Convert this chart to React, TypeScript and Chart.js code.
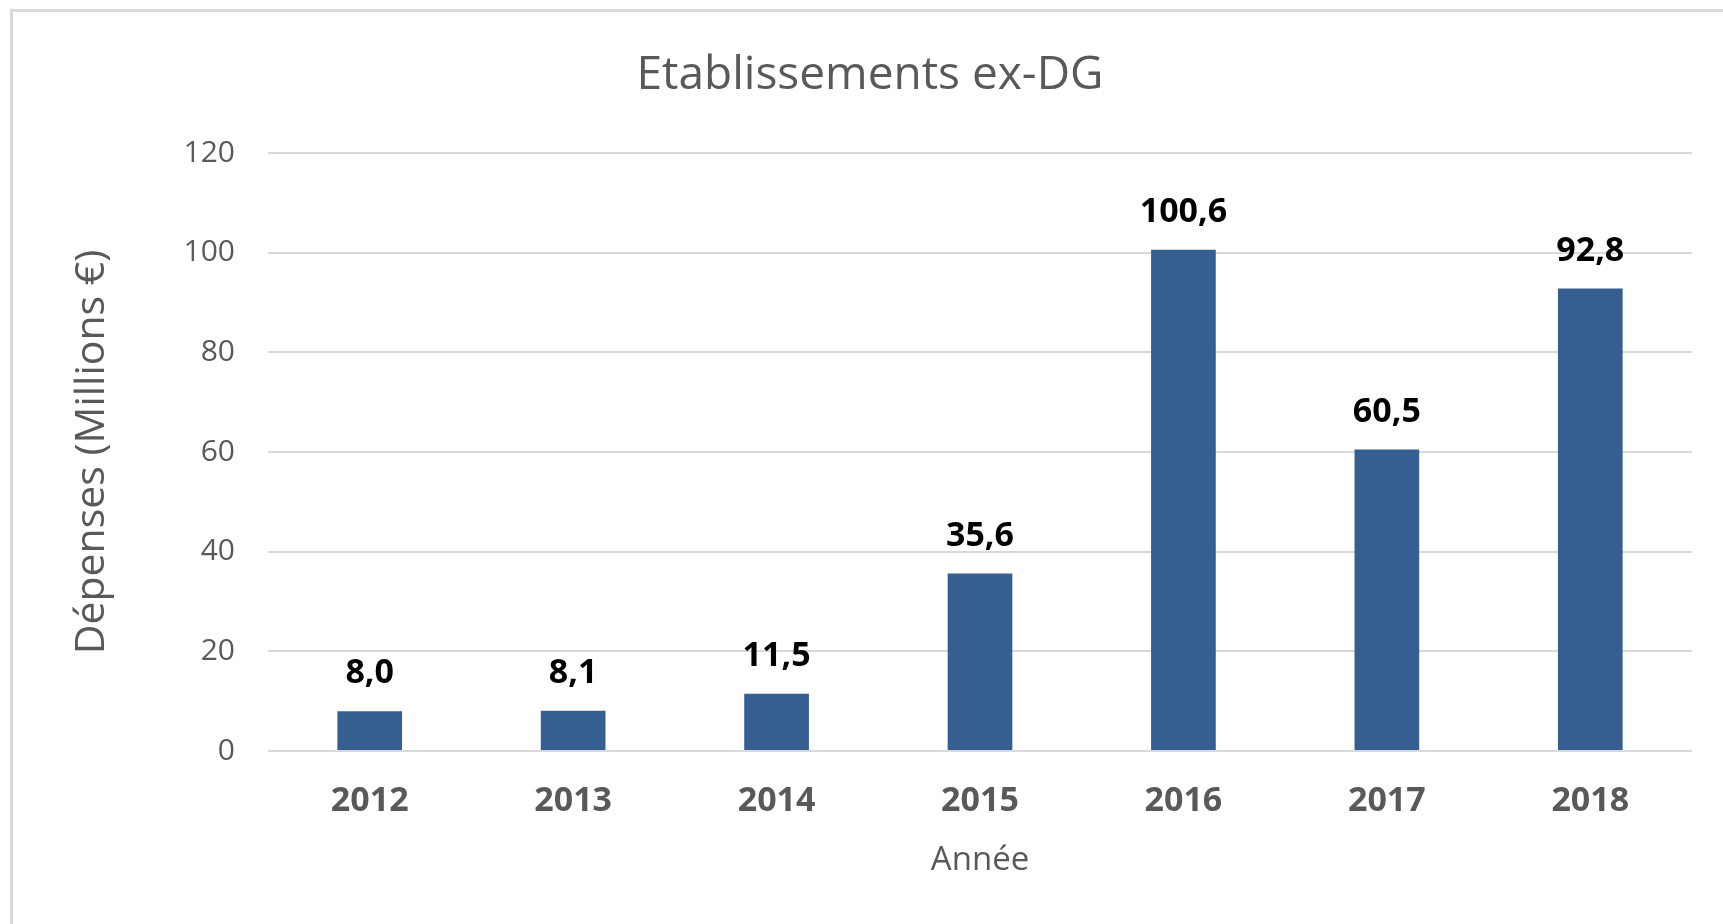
import React, { useEffect, useRef } from "react";
import { Chart, registerables } from "chart.js";

Chart.register(...registerables);

const titleText = "Etablissements ex-DG";
const yAxisTitle = "Dépenses (Millions €)";
const xAxisTitle = "Année";
const years = ["2012", "2013", "2014", "2015", "2016", "2017", "2018"];
const spending = [8.0, 8.1, 11.5, 35.6, 100.6, 60.5, 92.8];
const yTicks = [0, 20, 40, 60, 80, 100, 120];

const FONT = "'Open Sans', 'Noto Sans', sans-serif";
const W = 1723;
const H = 924;

const dataLabelPlugin = {
  id: "dataLabels",
  afterDatasetsDraw(chart: any) {
    const ctx = chart.ctx;
    const meta = chart.getDatasetMeta(0);
    const values = chart.data.datasets[0].data as number[];
    ctx.save();
    ctx.font = `bold 34px ${FONT}`;
    ctx.fillStyle = "#000000";
    ctx.textAlign = "center";
    ctx.textBaseline = "alphabetic";
    meta.data.forEach((bar: any, i: number) => {
      const label = values[i].toFixed(1).replace(".", ",");
      ctx.fillText(label, bar.x, bar.y - 28);
    });
    ctx.restore();
  },
};

export default function App() {
  const canvasRef = useRef<HTMLCanvasElement | null>(null);

  useEffect(() => {
    if (!canvasRef.current) return;
    const chart = new Chart(canvasRef.current, {
      type: "bar",
      data: {
        labels: years,
        datasets: [
          {
            data: spending,
            backgroundColor: "#365F91",
            borderWidth: 0,
            barPercentage: 1,
            categoryPercentage: 0.318,
          },
        ],
      },
      options: {
        animation: false,
        responsive: false,
        maintainAspectRatio: false,
        devicePixelRatio: 1,
        layout: { padding: { left: 48, right: 31, top: 0, bottom: 0 } },
        plugins: {
          legend: { display: false },
          tooltip: { enabled: false },
          title: {
            display: true,
            text: titleText,
            color: "#595959",
            font: { family: FONT, size: 46, weight: "normal" },
            padding: { top: 48.4, bottom: 49.4 },
          },
        },
        scales: {
          x: {
            grid: { display: false },
            border: { display: false },
            ticks: {
              color: "#595959",
              font: { family: FONT, size: 34, weight: "bold" },
              padding: 22,
              maxRotation: 0,
            },
            title: {
              display: true,
              text: xAxisTitle,
              color: "#595959",
              font: { family: FONT, size: 33 },
              padding: { top: 0, bottom: 44 },
            },
            afterFit(scale: any) {
              scale.height = 173;
            },
          },
          y: {
            min: yTicks[0],
            max: yTicks[yTicks.length - 1],
            afterBuildTicks(scale: any) {
              scale.ticks = yTicks.map((v) => ({ value: v }));
            },
            grid: { color: "#d9d9d9", lineWidth: 2, drawTicks: false },
            border: { display: false },
            ticks: {
              color: "#595959",
              font: { family: FONT, size: 30 },
              padding: 33,
            },
            title: {
              display: true,
              text: yAxisTitle,
              color: "#595959",
              font: { family: FONT, size: 41 },
              padding: { top: 20, bottom: 0 },
            },
            afterFit(scale: any) {
              scale.width = 220;
            },
          },
        },
      },
      plugins: [dataLabelPlugin],
    });
    return () => chart.destroy();
  }, []);

  return (
    <div
      style={{
        position: "fixed",
        left: 0,
        top: 0,
        width: W,
        height: H,
        overflow: "hidden",
        background: "#ffffff",
      }}
    >
      <div
        style={{
          position: "absolute",
          left: 10,
          top: 9,
          width: 2000,
          height: 2000,
          border: "3px solid #d9d9d9",
          boxSizing: "border-box",
        }}
      />
      <canvas
        ref={canvasRef}
        width={W}
        height={H}
        style={{ position: "absolute", left: 0, top: 0, width: W, height: H }}
      />
    </div>
  );
}
